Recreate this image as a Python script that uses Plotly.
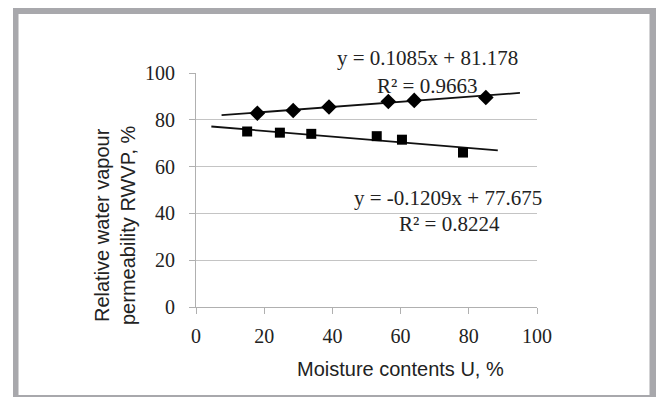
import plotly.graph_objects as go

# Data
moisture_diamond = [18.0, 28.5, 39.0, 56.4, 64.0, 85.0]
rwvp_diamond = [82.8, 84.0, 85.5, 87.8, 88.3, 89.5]
moisture_square = [15.0, 24.6, 33.8, 53.0, 60.4, 78.3]
rwvp_square = [75.0, 74.5, 74.0, 73.0, 71.5, 66.0]

# Linear trendline coefficients (as printed on the chart) and drawn x-extent
trend_diamond_coef = [0.1085, 81.178]
trend_diamond_x = [7.5, 95.0]
trend_square_coef = [-0.1209, 77.675]
trend_square_x = [4.5, 88.5]

eq_diamond = ["y = 0.1085x + 81.178", "R² = 0.9663"]
eq_square = ["y = -0.1209x + 77.675", "R² = 0.8224"]

tick_vals = [0, 20, 40, 60, 80, 100]
x_title = "Moisture contents U, %"
y_title = "Relative water vapour<br>permeability RWVP, %"


def line_y(coef, xs):
    return [coef[0] * x + coef[1] for x in xs]


fig = go.Figure()
fig.add_trace(go.Scatter(x=trend_diamond_x, y=line_y(trend_diamond_coef, trend_diamond_x),
                         mode="lines", line=dict(color="#111111", width=1.8),
                         hoverinfo="skip"))
fig.add_trace(go.Scatter(x=trend_square_x, y=line_y(trend_square_coef, trend_square_x),
                         mode="lines", line=dict(color="#111111", width=1.8),
                         hoverinfo="skip"))
fig.add_trace(go.Scatter(x=moisture_diamond, y=rwvp_diamond, mode="markers",
                         marker=dict(symbol="diamond", size=12, color="#000000")))
fig.add_trace(go.Scatter(x=moisture_square, y=rwvp_square, mode="markers",
                         marker=dict(symbol="square", size=10, color="#000000")))

serif = "Liberation Serif, Times New Roman, serif"
sans = "Liberation Sans, Arial, sans-serif"

L, R, T, B = 196, 537, 73, 307
PW, PH = R - L, B - T


def px(x):
    return (x - L) / PW


def py(y):
    return (B - y) / PH


def ann(text, x, y, family, size, angle=0):
    return dict(text=text, x=px(x), y=py(y), xref="paper", yref="paper",
                xanchor="center", yanchor="middle", showarrow=False,
                textangle=angle, font=dict(family=family, size=size, color="#222222"))


frame_color = "#a8a8ac"
fig.update_layout(
    width=656, height=397,
    margin=dict(l=L, r=656 - R, t=T, b=397 - B),
    paper_bgcolor="white", plot_bgcolor="white",
    showlegend=False,
    xaxis=dict(range=[0, 100], tickvals=tick_vals, showgrid=False,
               showline=True, linecolor="#b0b0b0", linewidth=1,
               ticks="outside", ticklen=6, tickcolor="#b0b0b0",
               tickfont=dict(family=serif, size=20, color="#222222"),
               ticklabelstandoff=5, zeroline=False),
    yaxis=dict(range=[0, 100], tickvals=tick_vals, showgrid=True,
               gridcolor="#c4c4c4", gridwidth=1,
               showline=True, linecolor="#b0b0b0", linewidth=1,
               ticks="outside", ticklen=6, tickcolor="#b0b0b0",
               tickfont=dict(family=serif, size=20, color="#222222"),
               ticklabelstandoff=10, zeroline=False),
    shapes=[
        # left, top, right, bottom bands of the grey frame
        dict(type="rect", xref="paper", yref="paper", x0=px(13), x1=px(18.5),
             y0=py(397), y1=py(8), fillcolor=frame_color, line=dict(width=0), layer="below"),
        dict(type="rect", xref="paper", yref="paper", x0=px(13), x1=px(656),
             y0=py(14), y1=py(8), fillcolor=frame_color, line=dict(width=0), layer="below"),
        dict(type="rect", xref="paper", yref="paper", x0=px(649.5), x1=px(656),
             y0=py(397), y1=py(8), fillcolor=frame_color, line=dict(width=0), layer="below"),
        dict(type="rect", xref="paper", yref="paper", x0=px(13), x1=px(656),
             y0=py(397), y1=py(395), fillcolor=frame_color, line=dict(width=0), layer="below"),
    ],
    annotations=[
        ann(eq_diamond[0], 427, 58, serif, 21),
        ann(eq_diamond[1], 427, 86, serif, 21),
        ann(eq_square[0], 448, 198, serif, 21),
        ann(eq_square[1], 449, 224, serif, 21),
        ann(x_title, 400, 369, sans, 20),
        ann(y_title, 115, 225, sans, 20, -90),
    ],
)

fig.write_html(
    "out.html",
    config={"displayModeBar": False},
    post_script=("document.body.style.margin='0';"
                 "document.body.style.overflow='hidden';"
                 "document.documentElement.style.overflow='hidden';"),
)
